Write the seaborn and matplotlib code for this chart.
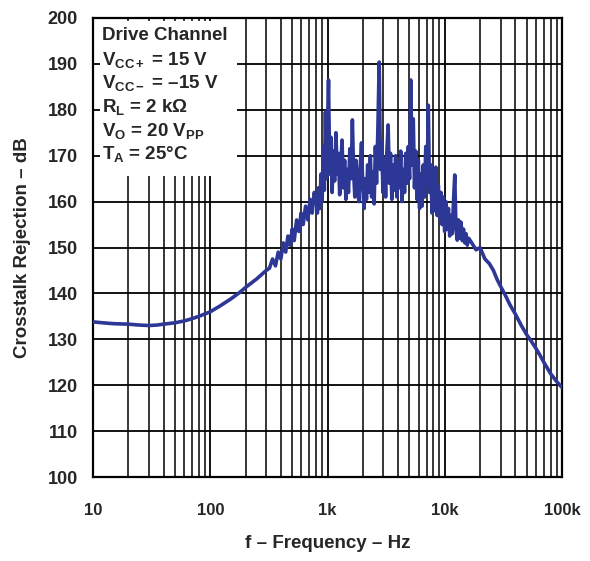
import numpy as np
import pandas as pd
import matplotlib
matplotlib.use("Agg")
import matplotlib.pyplot as plt
from matplotlib.patches import Rectangle
from matplotlib.ticker import FixedLocator, NullFormatter, LogLocator
import seaborn as sns

# ---- data ----
# smooth low-frequency part
low_freq = [10, 12, 15, 20, 25, 30, 35, 40, 50, 60, 70, 80, 100, 120, 150, 180, 200, 250, 300]
low_db = [133.8, 133.6, 133.4, 133.3, 133.1, 133.0, 133.1, 133.3, 133.6, 134.0, 134.5,
          135.0, 136.0, 137.2, 138.8, 140.3, 141.3, 143.2, 145.0]
# rising, slightly noisy part
rise_freq = [320, 340, 360, 380, 400, 420, 440, 460, 480, 500, 520, 545, 570, 595, 620,
             650, 680, 710, 740, 770]
rise_db = [145.5, 147.5, 146.0, 149.0, 147.5, 151.0, 149.0, 152.5, 150.5, 154.0, 151.5,
           156.0, 153.5, 157.5, 155.0, 159.0, 156.0, 160.5, 157.5, 162.0]
# very noisy mid band
mid_freq = [800, 820, 840, 860, 880, 900, 920, 940, 960, 980,
            1000, 1020, 1045, 1070, 1095, 1120, 1150, 1180, 1210, 1240,
            1270, 1300, 1330, 1365, 1400, 1435, 1470, 1510, 1550, 1590,
            1630, 1670, 1710, 1750, 1800, 1850, 1900, 1950, 2000, 2050,
            2100, 2150, 2200, 2260, 2320, 2380, 2440, 2500, 2560, 2620,
            2690, 2760, 2830, 2900, 2970, 3050, 3130, 3210, 3290, 3370,
            3450, 3540, 3630, 3720, 3810, 3910, 4010, 4110, 4210, 4320,
            4430, 4540, 4650, 4770, 4890, 5010, 5130, 5260, 5390, 5520,
            5660, 5800, 5950, 6100, 6250, 6400, 6560, 6720, 6890, 7060,
            7240, 7420, 7600, 7790, 7990, 8190, 8390, 8600, 8820, 9040,
            9270, 9500, 9740, 9980, 10230, 10490, 10750, 11020, 11300, 11580,
            11870, 12170, 12470, 12780, 13100, 13430, 13770, 14110, 14460, 14820,
            15190, 15570, 16000]
mid_db = [160.5, 157.5, 163.0, 158.5, 166.0, 160.0, 172.0, 162.5, 179.5, 165.0,
          176.0, 186.5, 166.0, 174.0, 162.0, 171.0, 164.5, 175.0, 166.0, 170.5,
          161.5, 168.0, 173.4, 163.0, 169.0, 160.5, 167.0, 162.0, 171.5, 165.0,
          177.8, 166.5, 161.0, 169.0, 163.5, 160.0, 167.5, 172.8, 163.0, 158.5,
          165.0, 160.5, 168.0, 162.0, 170.0, 161.0, 166.5, 159.5, 172.0, 164.0,
          176.0, 190.4, 167.0, 173.0, 162.0, 169.5, 161.0, 171.0, 176.7, 164.0,
          170.5, 160.5, 168.0, 162.5, 170.0, 161.0, 168.5, 163.0, 171.0, 160.0,
          167.0, 162.0, 170.5, 164.0, 172.0, 165.0, 186.5, 168.0, 178.0, 163.0,
          171.0, 160.5, 169.0, 158.5, 166.0, 159.0, 168.0, 161.0, 172.0, 163.5,
          181.0, 162.0, 168.0, 157.5, 165.0, 158.0, 167.5, 157.0, 163.5, 156.5,
          162.0, 155.0, 161.0, 153.5, 160.0, 154.0, 158.5, 152.5, 157.0, 153.0,
          160.0, 165.8, 154.0, 151.6, 156.0, 152.0, 155.5, 151.5, 154.0, 151.0,
          153.0, 150.5, 152.0]
# high-frequency roll-off
high_freq = [17000, 18500, 20000, 22000, 24000, 26000, 28000, 30000, 33000, 36000, 40000,
             45000, 50000, 55000, 60000, 65000, 70000, 80000, 90000, 100000]
high_db = [151.0, 149.5, 150.0, 147.5, 146.5, 145.0, 143.0, 141.5, 139.5, 137.5, 135.5,
           133.0, 131.0, 129.5, 128.0, 126.5, 125.0, 122.5, 120.8, 119.5]

x_ticks = [10, 100, 1000, 10000, 100000]
x_tick_labels = ["10", "100", "1k", "10k", "100k"]
y_ticks = [100, 110, 120, 130, 140, 150, 160, 170, 180, 190, 200]

legend_lines = [
    "Drive Channel",
    r"V$_{\mathbf{CC+}}$ = 15 V",
    r"V$_{\mathbf{CC-}}$ = –15 V",
    r"R$_{\mathbf{L}}$ = 2 kΩ",
    r"V$_{\mathbf{O}}$ = 20 V$_{\mathbf{PP}}$",
    r"T$_{\mathbf{A}}$ = 25°C",
]

freq_hz = low_freq + rise_freq + mid_freq + high_freq
crosstalk_db = low_db + rise_db + mid_db + high_db
assert len(freq_hz) == len(crosstalk_db), (len(freq_hz), len(crosstalk_db))
df = pd.DataFrame({"f": freq_hz, "db": crosstalk_db})

sns.set_style("white")
plt.rcParams["font.family"] = ["Liberation Sans", "DejaVu Sans"]
plt.rcParams["mathtext.fontset"] = "custom"
plt.rcParams["mathtext.rm"] = "Liberation Sans:bold"
plt.rcParams["mathtext.bf"] = "Liberation Sans:bold"
plt.rcParams["mathtext.it"] = "Liberation Sans:bold"

fig = plt.figure(figsize=(5.90, 5.61), dpi=100)
ax = fig.add_axes([93 / 590, 1 - 477 / 561, (562 - 93) / 590, (477 - 18) / 561])

sns.lineplot(data=df, x="f", y="db", ax=ax, color="#2d3796", linewidth=2.6, zorder=4)

ax.set_xscale("log")
ax.set_xlim(10, 100000)
ax.set_ylim(100, 200)

ax.xaxis.set_major_locator(FixedLocator(x_ticks))
ax.set_xticklabels(x_tick_labels)
ax.xaxis.set_minor_locator(LogLocator(base=10, subs=np.arange(2, 10)))
ax.xaxis.set_minor_formatter(NullFormatter())
ax.set_yticks(y_ticks)

ax.set_axisbelow(True)
ax.grid(True, which="major", axis="both", color="black", linewidth=1.3)
ax.grid(True, which="minor", axis="x", color="black", linewidth=1.1)

for s in ax.spines.values():
    s.set_color("black")
    s.set_linewidth(1.6)

ax.tick_params(axis="both", which="both", length=0)
ax.tick_params(axis="x", pad=19, labelsize=12)
ax.tick_params(axis="y", pad=11, labelsize=13)
for lab in ax.get_xticklabels() + ax.get_yticklabels():
    lab.set_fontweight("bold")

ax.set_xlabel("f – Frequency – Hz", fontsize=13.5, fontweight="bold", labelpad=12)
ax.set_ylabel("Crosstalk Rejection – dB", fontsize=13.5, fontweight="bold", labelpad=12)

# white annotation box
box = Rectangle((7 / 469, (477 - 176) / 459), (237 - 100) / 469, (176 - 21) / 459,
                transform=ax.transAxes, facecolor="white", edgecolor="none", zorder=2)
ax.add_patch(box)
for i, line in enumerate(legend_lines):
    ypix = 36 + i * 23.7
    ax.text(9 / 469, (477 - ypix) / 459, line, transform=ax.transAxes,
            fontsize=13.5, fontweight="bold", va="center", ha="left", zorder=3)

fig.savefig("out.png", dpi=100)
